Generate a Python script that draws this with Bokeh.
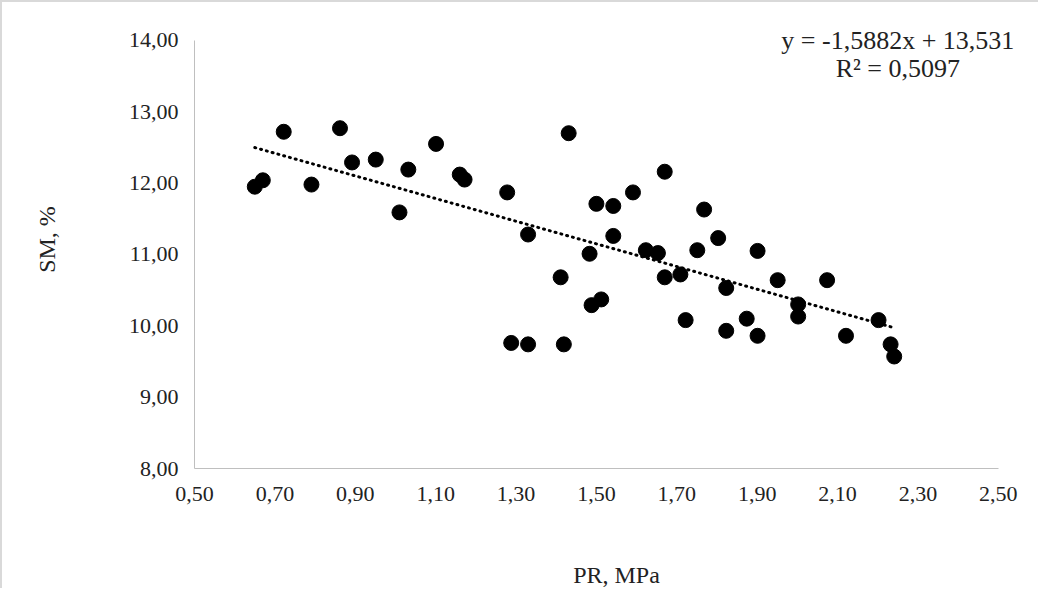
from bokeh.plotting import figure
from bokeh.models import Range1d, FixedTicker, Label
from bokeh.embed import file_html
from bokeh.resources import INLINE

pr = [0.650,0.670,0.722,0.791,0.862,0.892,0.951,1.010,1.032,1.101,1.160,1.172,1.278,1.330,1.431,1.500,
      1.542,1.591,1.670,1.542,1.483,1.623,1.653,1.751,1.768,1.803,1.901,1.670,1.709,1.823,1.951,2.074,
      2.002,2.002,1.488,1.512,1.722,1.823,1.874,1.901,2.121,2.202,2.232,2.241,1.288,1.330,1.419,1.411]
sm = [11.95,12.04,12.72,11.98,12.77,12.29,12.33,11.59,12.19,12.55,12.12,12.05,11.87,11.28,12.70,11.71,
      11.68,11.87,12.16,11.26,11.01,11.06,11.02,11.06,11.63,11.23,11.05,10.68,10.72,10.53,10.64,10.64,
      10.30,10.13,10.29,10.37,10.08,9.93,10.10,9.86,9.86,10.08,9.74,9.57,9.76,9.74,9.74,10.68]
slope, intercept = -1.5882, 13.531
r2 = "0,5097"
xticks = [0.5,0.7,0.9,1.1,1.3,1.5,1.7,1.9,2.1,2.3,2.5]
yticks = [8,9,10,11,12,13,14]

FONT = "Liberation Serif"
p = figure(width=1038, height=588, output_backend="svg", toolbar_location=None,
           x_range=Range1d(0.5, 2.6), y_range=Range1d(8, 14.42),
           min_border_left=192, min_border_right=2, min_border_top=8, min_border_bottom=119,
           styles={"border-left": "2px solid #d9d9d9", "border-top": "2px solid #d9d9d9"})
p.outline_line_color = None
p.grid.visible = False

xs = [min(pr), max(pr)]
p.line(xs, [slope*x + intercept for x in xs], line_color="black", line_width=3, line_dash="1 5", line_cap="round")
p.scatter(pr, sm, size=15, color="black")

for ax in (p.xaxis[0], p.yaxis[0]):
    ax.axis_line_color = "#bfbfbf"
    ax.major_tick_line_color = None
    ax.minor_tick_line_color = None
    ax.major_label_text_font = FONT
    ax.major_label_text_font_size = "22px"
    ax.major_label_text_color = "#222222"
    ax.axis_label_text_font = FONT
    ax.axis_label_text_font_size = "24px"
    ax.axis_label_text_font_style = "normal"
    ax.axis_label_text_color = "#222222"
p.xaxis.bounds = (0.5, 2.5)
p.yaxis.bounds = (8, 14)
p.xaxis.ticker = FixedTicker(ticks=xticks)
p.yaxis.ticker = FixedTicker(ticks=yticks)
p.xaxis.major_label_overrides = {t: f"{t:.2f}".replace(".", ",") for t in xticks}
p.yaxis.major_label_overrides = {t: f"{t:.2f}".replace(".", ",") for t in yticks}
p.xaxis.axis_label = "PR, MPa"
p.yaxis.axis_label = "SM, %"
p.xaxis.axis_label_standoff = 58
p.yaxis.axis_label_standoff = 66
p.xaxis.major_label_standoff = 12
p.yaxis.major_label_standoff = 10

eq = f"y = {slope}x + {intercept}".replace(".", ",")
p.add_layout(Label(x=2.25, y=14.0, text=eq, text_align="center", text_baseline="middle",
                   text_font=FONT, text_font_size="26px", text_color="#222222"))
p.add_layout(Label(x=2.25, y=13.6, text=f"R² = {r2}", text_align="center", text_baseline="middle",
                   text_font=FONT, text_font_size="26px", text_color="#222222"))

open("out.html", "w").write(file_html(p, INLINE))
